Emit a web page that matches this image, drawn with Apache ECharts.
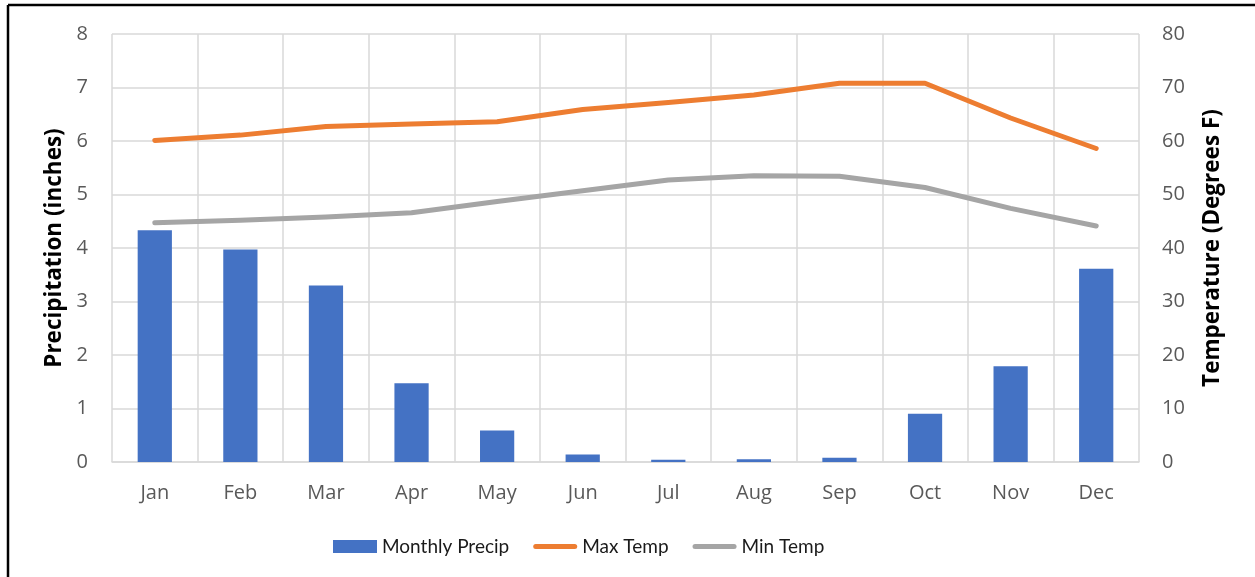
<!DOCTYPE html>
<html>
<head>
<meta charset="utf-8">
<script src="https://cdn.jsdelivr.net/npm/echarts@6/dist/echarts.min.js"></script>
<style>
  html, body { margin: 0; padding: 0; background: #fff; }
  #chart { width: 1255px; height: 577px; }
</style>
</head>
<body>
<div id="chart"></div>
<script>
// Monthly climate summary: precipitation bars with temperature lines
const months = ['Jan', 'Feb', 'Mar', 'Apr', 'May', 'Jun', 'Jul', 'Aug', 'Sep', 'Oct', 'Nov', 'Dec'];
const monthlyPrecip = [4.33, 3.97, 3.30, 1.47, 0.59, 0.14, 0.04, 0.05, 0.08, 0.90, 1.79, 3.61];
const maxTemp = [60.1, 61.1, 62.7, 63.2, 63.6, 65.9, 67.2, 68.6, 70.8, 70.8, 64.3, 58.6];
const minTemp = [44.7, 45.2, 45.8, 46.6, 48.7, 50.7, 52.7, 53.5, 53.4, 51.3, 47.4, 44.1];
const precipTicks = { min: 0, max: 8, interval: 1 };
const tempTicks = { min: 0, max: 80, interval: 10 };

const FONT = 'Open Sans';
const LEGEND_FONT = 'Lato';
const tickColor = '#595959';
const gridColor = '#D9D9D9';
// thin rounded bar used as the legend swatch for the line series
const lineIcon = 'path://M2.5,0 L41.5,0 A2.5,2.5 0 0 1 41.5,5 L2.5,5 A2.5,2.5 0 0 1 2.5,0 Z';

const chart = echarts.init(document.getElementById('chart'), null, { renderer: 'canvas' });

chart.setOption({
  backgroundColor: '#ffffff',
  animation: false,
  graphic: [
    { type: 'line', shape: { x1: 8, y1: 5, x2: 1255, y2: 5 }, style: { stroke: '#000', lineWidth: 2.5 } },
    { type: 'line', shape: { x1: 8, y1: 5, x2: 8, y2: 577 }, style: { stroke: '#000', lineWidth: 2.5 } }
  ],
  grid: { left: 112, right: 116, top: 34, height: 428 },
  legend: {
    bottom: 16,
    left: 328,
    itemWidth: 44,
    itemHeight: 13,
    itemGap: 24,
    textStyle: { fontFamily: LEGEND_FONT, fontSize: 19, color: '#1a1a1a' },
    data: [
      { name: 'Monthly Precip', icon: 'rect' },
      { name: 'Max Temp', icon: lineIcon },
      { name: 'Min Temp', icon: lineIcon }
    ]
  },
  xAxis: {
    type: 'category',
    data: months,
    axisLine: { show: true, lineStyle: { color: gridColor, width: 1.5 } },
    axisTick: { show: false },
    axisLabel: { color: tickColor, fontFamily: FONT, fontSize: 20, margin: 21 },
    splitLine: { show: true, lineStyle: { color: gridColor, width: 1.5 } },
    boundaryGap: true
  },
  yAxis: [
    {
      type: 'value',
      min: precipTicks.min, max: precipTicks.max, interval: precipTicks.interval,
      name: 'Precipitation (inches)',
      nameLocation: 'middle',
      nameGap: 44,
      nameTextStyle: { fontFamily: FONT, fontSize: 22.5, fontWeight: 'bold', color: '#000' },
      axisLine: { show: false },
      axisTick: { show: false },
      axisLabel: { color: tickColor, fontFamily: FONT, fontSize: 20, margin: 24 },
      splitLine: { show: true, lineStyle: { color: gridColor, width: 1.5 } }
    },
    {
      type: 'value',
      min: tempTicks.min, max: tempTicks.max, interval: tempTicks.interval,
      name: 'Temperature (Degrees F)',
      nameLocation: 'middle',
      nameGap: 62,
      nameRotate: 90,
      nameTextStyle: { fontFamily: FONT, fontSize: 22.5, fontWeight: 'bold', color: '#000' },
      axisLine: { show: false },
      axisTick: { show: false },
      axisLabel: { color: tickColor, fontFamily: FONT, fontSize: 20, margin: 23 },
      splitLine: { show: false }
    }
  ],
  series: [
    {
      name: 'Monthly Precip',
      type: 'bar',
      yAxisIndex: 0,
      data: monthlyPrecip,
      barWidth: '40%',
      itemStyle: { color: '#4472C4' }
    },
    {
      name: 'Max Temp',
      type: 'line',
      yAxisIndex: 1,
      data: maxTemp,
      symbol: 'none',
      itemStyle: { color: '#ED7D31' },
      lineStyle: { color: '#ED7D31', width: 5, cap: 'round', join: 'round' }
    },
    {
      name: 'Min Temp',
      type: 'line',
      yAxisIndex: 1,
      data: minTemp,
      symbol: 'none',
      itemStyle: { color: '#A5A5A5' },
      lineStyle: { color: '#A5A5A5', width: 5, cap: 'round', join: 'round' }
    }
  ]
});
</script>
</body>
</html>
